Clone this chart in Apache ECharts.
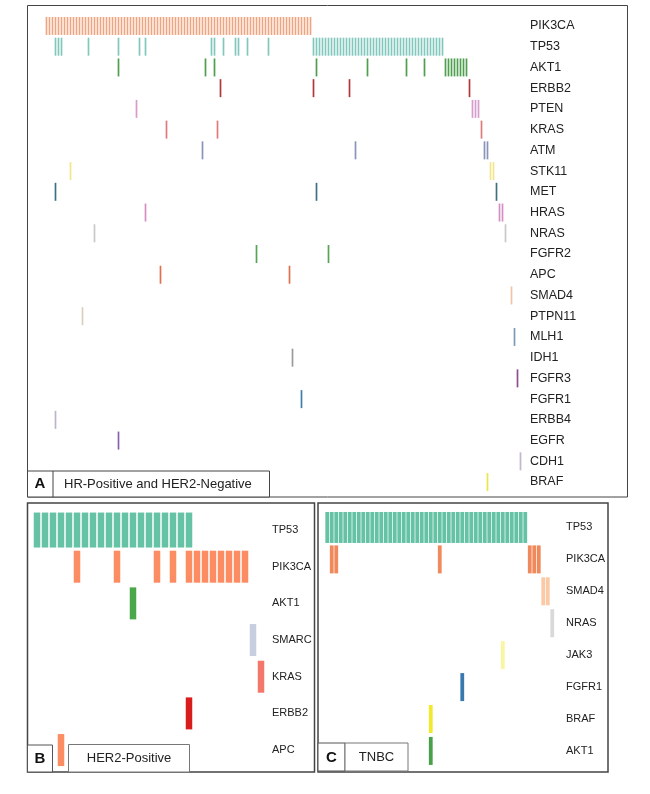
<!DOCTYPE html>
<html><head><meta charset="utf-8">
<script src="https://cdn.jsdelivr.net/npm/echarts@6/dist/echarts.min.js"></script>
<style>html,body{margin:0;padding:0;background:#fff}#c{width:650px;height:794px}</style>
</head><body><div id="c"></div>
<script>
// ---------- Panel A: HR-Positive and HER2-Negative (sample column indices) ----------
const genesA = ['PIK3CA','TP53','AKT1','ERBB2','PTEN','KRAS','ATM','STK11','MET','HRAS','NRAS','FGFR2','APC','SMAD4','PTPN11','MLH1','IDH1','FGFR3','FGFR1','ERBB4','EGFR','CDH1','BRAF'];
const A_PIK3CA = [0,1,2,3,4,5,6,7,8,9,10,11,12,13,14,15,16,17,18,19,20,21,22,23,24,25,26,27,28,29,30,31,32,33,34,35,36,37,38,39,40,41,42,43,44,45,46,47,48,49,50,51,52,53,54,55,56,57,58,59,60,61,62,63,64,65,66,67,68,69,70,71,72,73,74,75,76,77,78,79,80,81,82,83,84,85,86,87,88];
const A_TP53 = [3,4,5,14,24,31,33,55,56,59,63,64,67,74,89,90,91,92,93,94,95,96,97,98,99,100,101,102,103,104,105,106,107,108,109,110,111,112,113,114,115,116,117,118,119,120,121,122,123,124,125,126,127,128,129,130,131,132];
const A_AKT1 = [24,53,56,90,107,120,126,133,134,135,136,137,138,139,140];
const A_ERBB2 = [58,89,101,141];
const A_PTEN = [30,142,143,144];
const A_KRAS = [40,57,145];
const A_ATM = [52,103,146,147];
const A_STK11 = [8,148,149];
const A_MET = [3,90,150];
const A_HRAS = [33,151,152];
const A_NRAS = [16,153];
const A_FGFR2 = [70,94];
const A_APC = [38,81];
const A_SMAD4 = [155];
const A_PTPN11 = [12];
const A_MLH1 = [156];
const A_IDH1 = [82];
const A_FGFR3 = [157];
const A_FGFR1 = [85];
const A_ERBB4 = [3];
const A_EGFR = [24];
const A_CDH1 = [158];
const A_BRAF = [147];
const dataA = [A_PIK3CA,A_TP53,A_AKT1,A_ERBB2,A_PTEN,A_KRAS,A_ATM,A_STK11,A_MET,A_HRAS,A_NRAS,A_FGFR2,A_APC,A_SMAD4,A_PTPN11,A_MLH1,A_IDH1,A_FGFR3,A_FGFR1,A_ERBB4,A_EGFR,A_CDH1,A_BRAF];
const colorsA = ['#efa582','#80c8be','#4f9f4f','#b0383a','#d59ccc','#e07a7a','#8a94b8','#f2e68a','#3f6f80','#d58fc2','#c8c8c8','#56a456','#e07050','#f0c4a4','#d8d0bc','#7f9ab8','#9a9a9a','#8c4f8c','#3f7fa8','#bcb4c8','#8b5fb0','#c4b6cc','#e9e64a'];

// ---------- Panel B: HER2-Positive ----------
const genesB = ['TP53','PIK3CA','AKT1','SMARC','KRAS','ERBB2','APC'];
const B_TP53 = [0,1,2,3,4,5,6,7,8,9,10,11,12,13,14,15,16,17,18,19];
const B_PIK3CA = [5,10,15,17,19,20,21,22,23,24,25,26];
const B_AKT1 = [12];
const B_SMARC = [27];
const B_KRAS = [28];
const B_ERBB2 = [19];
const B_APC = [3];
const dataB = [B_TP53,B_PIK3CA,B_AKT1,B_SMARC,B_KRAS,B_ERBB2,B_APC];
const colorsB = ['#66c2a5','#fc8d62','#4aa84a','#c6cee0','#f4776b','#d91c1c','#fc8d62'];

// ---------- Panel C: TNBC ----------
const genesC = ['TP53','PIK3CA','SMAD4','NRAS','JAK3','FGFR1','BRAF','AKT1'];
const C_TP53 = [0,1,2,3,4,5,6,7,8,9,10,11,12,13,14,15,16,17,18,19,20,21,22,23,24,25,26,27,28,29,30,31,32,33,34,35,36,37,38,39,40,41,42,43,44];
const C_PIK3CA = [1,2,25,45,46,47];
const C_SMAD4 = [48,49];
const C_NRAS = [50];
const C_JAK3 = [39];
const C_FGFR1 = [30];
const C_BRAF = [23];
const C_AKT1 = [23];
const dataC = [C_TP53,C_PIK3CA,C_SMAD4,C_NRAS,C_JAK3,C_FGFR1,C_BRAF,C_AKT1];
const colorsC = ['#66c2a5','#f08a5c','#fbc9a6','#d9d9d9','#faf5a0','#3a78b0','#f3e92c','#4aa04a'];

const FONT = 'Liberation Sans, Arial, sans-serif';
const series = [];
function addPanel(gi, genes, data, colors, size, tallFirst) {
  genes.forEach((g, k) => {
    series.push({
      type: 'scatter', xAxisIndex: gi, yAxisIndex: gi, silent: true,
      symbol: 'rect',
      symbolSize: (k === 0 && tallFirst) ? [size[0], tallFirst] : size,
      itemStyle: { color: colors[k], opacity: 1 },
      data: data[k].map(c => [c, g])
    });
  });
}
addPanel(0, genesA, dataA, colorsA, [1.7, 18], 0);
addPanel(1, genesB, dataB, colorsB, [6.5, 32], 35);
addPanel(2, genesC, dataC, colorsC, [3.8, 28], 31);

function yAx(gi, genes, size, margin) {
  return { type: 'category', gridIndex: gi, data: genes, inverse: true, position: 'right',
    axisLine: {show: false}, axisTick: {show: false}, splitLine: {show: false},
    axisLabel: {margin: margin, fontSize: size, color: '#222', fontFamily: FONT, align: 'left'} };
}
function xAx(gi, max) {
  return { type: 'value', gridIndex: gi, min: -0.5, max: max, show: false, splitLine: {show: false} };
}

const chart = echarts.init(document.getElementById('c'), null, {renderer: 'canvas'});
chart.setOption({
  animation: false,
  backgroundColor: '#fff',
  grid: [
    {left: 45, top: 15.6, width: 480, height: 476.8},
    {left: 33, top: 511.7, width: 234, height: 256.7},
    {left: 325, top: 511.5, width: 236, height: 255.4}
  ],
  xAxis: [xAx(0, 159.5), xAx(1, 28.75), xAx(2, 51.94)],
  yAxis: [yAx(0, genesA, 12.5, 5), yAx(1, genesB, 11, 5), yAx(2, genesC, 11, 5)],
  series: series,
  graphic: [
    {type: 'rect', shape: {x: 27.5, y: 5.5, width: 600, height: 491.5}, style: {fill: 'none', stroke: '#444', lineWidth: 1}, z: 10},
    {type: 'rect', shape: {x: 27.5, y: 471, width: 242, height: 26}, style: {fill: '#fff', stroke: '#444', lineWidth: 1}, z: 11},
    {type: 'line', shape: {x1: 53, y1: 471, x2: 53, y2: 497}, style: {stroke: '#444', lineWidth: 1}, z: 12},
    {type: 'text', x: 40, y: 484, style: {text: 'A', font: 'bold 15px ' + FONT, fill: '#111', align: 'center', verticalAlign: 'middle'}, z: 12},
    {type: 'text', x: 64, y: 484, style: {text: 'HR-Positive and HER2-Negative', font: '13px ' + FONT, fill: '#222', align: 'left', verticalAlign: 'middle'}, z: 12},

    {type: 'rect', shape: {x: 27.5, y: 503, width: 287, height: 269}, style: {fill: 'none', stroke: '#444', lineWidth: 1.5}, z: 10},
    {type: 'rect', shape: {x: 27.5, y: 745, width: 25, height: 27}, style: {fill: '#fff', stroke: '#555', lineWidth: 1}, z: 11},
    {type: 'text', x: 40, y: 759, style: {text: 'B', font: 'bold 15px ' + FONT, fill: '#111', align: 'center', verticalAlign: 'middle'}, z: 12},
    {type: 'rect', shape: {x: 68.5, y: 744.5, width: 121, height: 27.5}, style: {fill: '#fff', stroke: '#777', lineWidth: 1}, z: 11},
    {type: 'text', x: 129, y: 758.5, style: {text: 'HER2-Positive', font: '13px ' + FONT, fill: '#222', align: 'center', verticalAlign: 'middle'}, z: 12},

    {type: 'rect', shape: {x: 318, y: 503, width: 290, height: 269}, style: {fill: 'none', stroke: '#444', lineWidth: 1.5}, z: 10},
    {type: 'rect', shape: {x: 318, y: 743, width: 27, height: 28}, style: {fill: '#fff', stroke: '#555', lineWidth: 1}, z: 11},
    {type: 'text', x: 331.5, y: 758, style: {text: 'C', font: 'bold 15px ' + FONT, fill: '#111', align: 'center', verticalAlign: 'middle'}, z: 12},
    {type: 'rect', shape: {x: 345, y: 743, width: 63, height: 28}, style: {fill: '#fff', stroke: '#777', lineWidth: 1}, z: 11},
    {type: 'text', x: 376.5, y: 757, style: {text: 'TNBC', font: '13px ' + FONT, fill: '#222', align: 'center', verticalAlign: 'middle'}, z: 12}
  ]
});
</script>
</body></html>
